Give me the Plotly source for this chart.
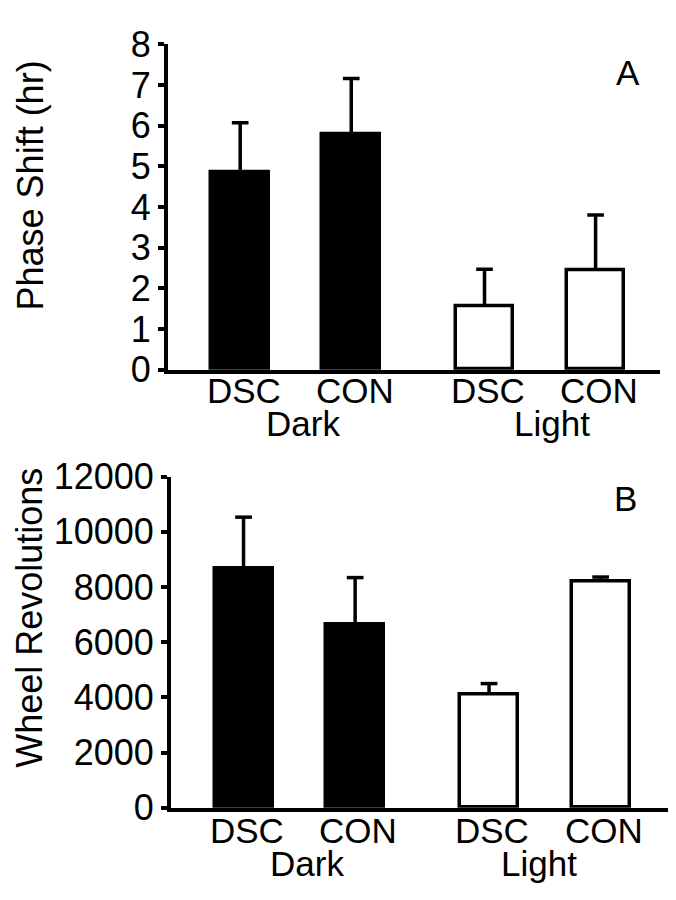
import plotly.graph_objects as go

# data
groups = ["Dark", "Dark", "Light", "Light"]
treatments = ["DSC", "CON", "DSC", "CON"]
phase_shift = [4.85, 5.8, 1.55, 2.45]
phase_shift_err = [1.22, 1.36, 0.92, 1.35]
wheel_revs = [8650, 6640, 4100, 8200]
wheel_revs_err = [1880, 1700, 400, 160]

xpos = [0.65, 1.65, 2.85, 3.85]
fill_colors = ["black" if g == "Dark" else "white" for g in groups]
FONT = "Liberation Sans, Arial, sans-serif"
W, H = 676, 900
CAP = 0.075  # half width of the error bar caps, x units

fig = go.Figure()

def add_panel(vals, errs, xa, ya):
    fig.add_trace(go.Bar(
        x=xpos, y=vals, width=0.52,
        marker=dict(color=fill_colors, line=dict(color="black", width=3.5)),
        xaxis=xa, yaxis=ya, showlegend=False, hoverinfo="skip"))
    # upward-only error bars: stem + cap
    sx, sy = [], []
    for xp, v, e in zip(xpos, vals, errs):
        sx += [xp, xp, None, xp - CAP, xp + CAP, None]
        sy += [v, v + e, None, v + e, v + e, None]
    fig.add_trace(go.Scatter(
        x=sx, y=sy, mode="lines", line=dict(color="black", width=3.5),
        xaxis=xa, yaxis=ya, showlegend=False, hoverinfo="skip"))

add_panel(phase_shift, phase_shift_err, "x", "y")
add_panel(wheel_revs, wheel_revs_err, "x2", "y2")

def px_x(p):
    return p / W

def px_y(p):
    return 1 - p / H

xcommon = dict(showline=True, linecolor="black", linewidth=4, ticks="",
               showticklabels=False, showgrid=False, zeroline=False,
               fixedrange=True)
ycommon = dict(showline=True, linecolor="black", linewidth=4, ticks="outside",
               ticklen=6, tickwidth=3.5, tickcolor="black", showgrid=False,
               zeroline=False, tickformat="d",
               tickfont=dict(size=36, color="black", family=FONT))

fig.update_layout(
    width=W, height=H,
    margin=dict(l=0, r=0, t=0, b=0),
    plot_bgcolor="white", paper_bgcolor="white",
    bargap=0,
    xaxis=dict(domain=[px_x(160), px_x(652)], range=[0, 4.43],
               anchor="y", **xcommon),
    yaxis=dict(domain=[px_y(358), px_y(17)], range=[0, 8], dtick=1,
               anchor="x", **ycommon),
    xaxis2=dict(domain=[px_x(163), px_x(673)], range=[0, 4.57],
                anchor="y2", **xcommon),
    yaxis2=dict(domain=[px_y(817), px_y(470)], range=[0, 12000], dtick=2000,
                anchor="x2", **ycommon),
)

def label(text, x, y, xref="paper", angle=0, size=35):
    fig.add_annotation(text=text, x=x, y=y, xref=xref, yref="paper",
                       xanchor="center", yanchor="middle", textangle=angle,
                       showarrow=False,
                       font=dict(size=size, color="black", family=FONT))

label("Phase Shift (hr)", px_x(22), px_y(165), angle=-90, size=36)
label("Wheel Revolutions", px_x(22), px_y(618), angle=-90, size=36)
label("A", px_x(620), px_y(47))
label("B", px_x(617), px_y(493))

# category labels under the bars, group labels below them
panels = [("x", 380, 414, {"Dark": 0.07, "Light": 0.11}),
          ("x2", 841, 875, {"Dark": 0.07, "Light": -0.05})]
for xa, ytick, ygroup, shift in panels:
    for xp, t in zip(xpos, treatments):
        label(t, xp + 0.03, px_y(ytick), xref=xa)
    for g in ["Dark", "Light"]:
        xs = [xp for xp, gg in zip(xpos, groups) if gg == g]
        label(g, sum(xs) / len(xs) + shift[g], px_y(ygroup), xref=xa)

fig.write_html("out.html")
